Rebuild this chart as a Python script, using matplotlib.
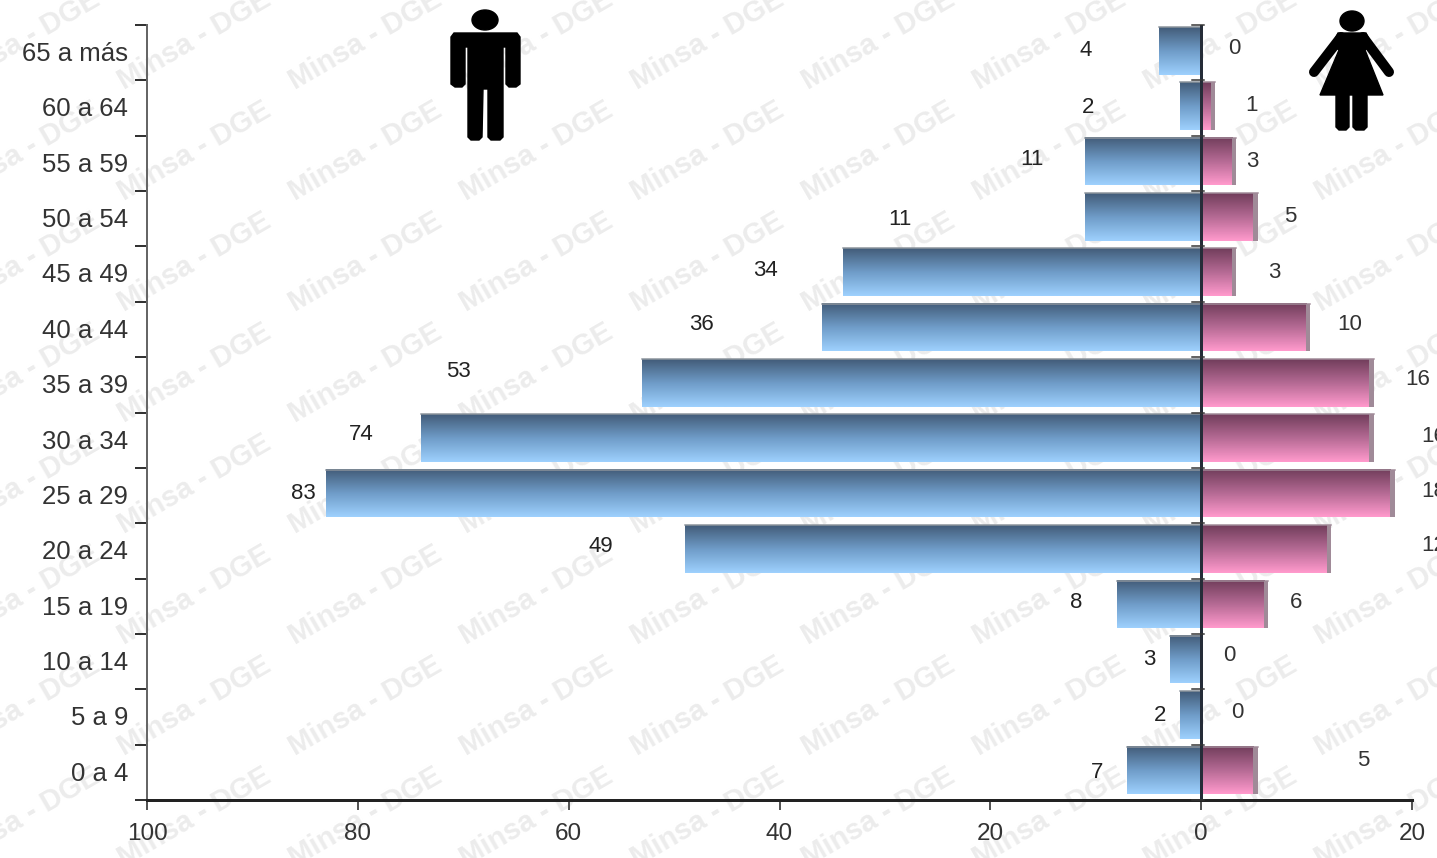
from matplotlib import pyplot as plt
from matplotlib.colors import LinearSegmentedColormap
from matplotlib.patches import Ellipse, Polygon
import numpy as np

plt.rcParams['font.family'] = ['Liberation Sans', 'DejaVu Sans']

# datos, de arriba hacia abajo
grupos = ['65 a más', '60 a 64', '55 a 59', '50 a 54', '45 a 49', '40 a 44', '35 a 39',
          '30 a 34', '25 a 29', '20 a 24', '15 a 19', '10 a 14', '5 a 9', '0 a 4']
hombres = [4, 2, 11, 11, 34, 36, 53, 74, 83, 49, 8, 3, 2, 7]
mujeres = [0, 1, 3, 5, 3, 10, 16, 16, 18, 12, 6, 0, 0, 5]
x_ticks = [-100, -80, -60, -40, -20, 0, 20]
x_labels = ['100', '80', '60', '40', '20', '0', '20']

# las etiquetas estan corridas en el original (desplazamiento en pixeles)
h_dx = [-73, -92, -53, -185, -77, -120, -184, -60, -23, -84, -41, -20, -20, -30]
h_dy = [0, -1, 2, -3, 2, 3, 11, 4, 0, 2, 2, 0, 0, -2]
m_dx = [33, 40, 20, 36, 42, 43, 48, 64, 43, 106, 32, 28, 36, 109]
m_dy = [2, 1, 0, 0, 0, 3, 3, 2, 2, 3, 2, 4, 3, 10]

W, H = 1437, 858
px = 72 / 100  # puntos por pixel

fig = plt.figure(figsize=(W / 100, H / 100), dpi=100, facecolor='white')

# fondo: marca de agua y figuras
bg = fig.add_axes([0, 0, 1, 1], zorder=0)
bg.set_xlim(0, W)
bg.set_ylim(H, 0)
bg.axis('off')

for cx in range(-148, W + 200, 171):
    for cy in range(-71, H + 120, 111):
        bg.text(cx, cy, 'Minsa - DGE', rotation=30, ha='center', va='center',
                fontsize=21, fontweight='bold', color='#ececec', clip_on=True)

# hombre
bg.add_patch(Ellipse((485, 20), 26, 20, color='black', zorder=3))
bg.add_patch(Polygon([(454, 33), (517, 33), (520, 37), (520, 84), (516, 87), (509, 87), (506, 84),
                      (506, 47), (503, 47), (503, 137), (500, 140), (491, 140), (488, 137),
                      (488, 89), (483, 89), (482, 137), (479, 140), (471, 140), (468, 137),
                      (468, 47), (465, 47), (465, 84), (462, 87), (455, 87), (451, 84), (451, 37)],
                     closed=True, color='black', zorder=3))
# mujer
bg.add_patch(Ellipse((1352, 21), 24, 20, color='black', zorder=3))
bg.add_patch(Polygon([(1338, 33), (1366, 33), (1372, 45), (1365, 50), (1383, 95), (1367, 95),
                      (1367, 127), (1364, 130), (1356, 130), (1353, 127), (1353, 95), (1349, 95),
                      (1349, 127), (1346, 130), (1339, 130), (1336, 127), (1336, 95), (1320, 95),
                      (1339, 50), (1332, 45)],
                     closed=True, color='black', zorder=3))
bg.plot([1341, 1314], [37, 72], color='black', lw=10 * px, solid_capstyle='round', zorder=3)
bg.plot([1363, 1389], [37, 72], color='black', lw=10 * px, solid_capstyle='round', zorder=3)

# grafico
ax = fig.add_axes([147 / W, (H - 800) / H, (1412 - 147) / W, 775 / H], zorder=1)
ax.patch.set_alpha(0)

cmap_h = LinearSegmentedColormap.from_list('h', ['#435d7a', '#6f9cc8', '#9dd0fd'])
cmap_m = LinearSegmentedColormap.from_list('m', ['#723e5c', '#b56a94', '#ff99cc'])
grad = np.linspace(0, 1, 48).reshape(-1, 1)

n = len(grupos)
alto = 0.86
for i in range(n):
    yc = n - 1 - i + 0.5 + 0.035
    y0, y1 = yc - alto / 2, yc + alto / 2
    ax.imshow(grad, cmap=cmap_h, aspect='auto', extent=(-hombres[i], 0, y0, y1), zorder=2)
    ax.plot([-hombres[i], 0], [y1, y1], color='#8c949c', lw=1.5 * px, zorder=3)
    if mujeres[i] > 0:
        ax.imshow(grad, cmap=cmap_m, aspect='auto', extent=(0, mujeres[i], y0, y1), zorder=2)
        # cara lateral del efecto 3D
        ax.barh(yc, 0.4, left=mujeres[i] - 0.05, height=alto, color='#a08a98', zorder=3)
        ax.plot([0, mujeres[i] + 0.35], [y1, y1], color='#a08a98', lw=1.5 * px, zorder=3)
    ax.annotate(str(hombres[i]), (-hombres[i], yc), xytext=(h_dx[i] * px, h_dy[i] * px),
                textcoords='offset points', ha='center', va='center', fontsize=16,
                color='#222222', annotation_clip=False, zorder=5)
    ax.annotate(str(mujeres[i]), (mujeres[i], yc), xytext=(m_dx[i] * px, m_dy[i] * px),
                textcoords='offset points', ha='center', va='center', fontsize=16,
                color='#333333', annotation_clip=False, zorder=5)

ax.set_xlim(-100, 20)
ax.set_ylim(0, n)

# linea central con sus marcas
ax.axvline(0, color='#252c38', lw=3 * px, zorder=4)
for k in range(n + 1):
    ax.plot([-0.9, 0.3], [k, k], color='#333333', lw=1.5 * px, zorder=4, clip_on=False)

for lado in ['top', 'right']:
    ax.spines[lado].set_visible(False)
ax.spines['left'].set_color('#666666')
ax.spines['left'].set_linewidth(2 * px)
ax.spines['bottom'].set_color('#222222')
ax.spines['bottom'].set_linewidth(3 * px)

ax.set_yticks(range(n + 1))
ax.set_yticklabels([])
ax.set_yticks([n - 1 - i + 0.5 + 0.02 for i in range(n)], grupos, minor=True)
ax.tick_params(axis='y', which='major', length=12 * px, width=2 * px, color='#333333', direction='out')
ax.tick_params(axis='y', which='minor', length=0, pad=19 * px, labelsize=18.5, labelcolor='#333333')
ax.set_xticks(x_ticks, x_labels)
ax.tick_params(axis='x', length=10 * px, width=2 * px, color='#555555', pad=13 * px,
               labelsize=17.5, labelcolor='#333333')

fig.savefig('out.png', dpi=100)
